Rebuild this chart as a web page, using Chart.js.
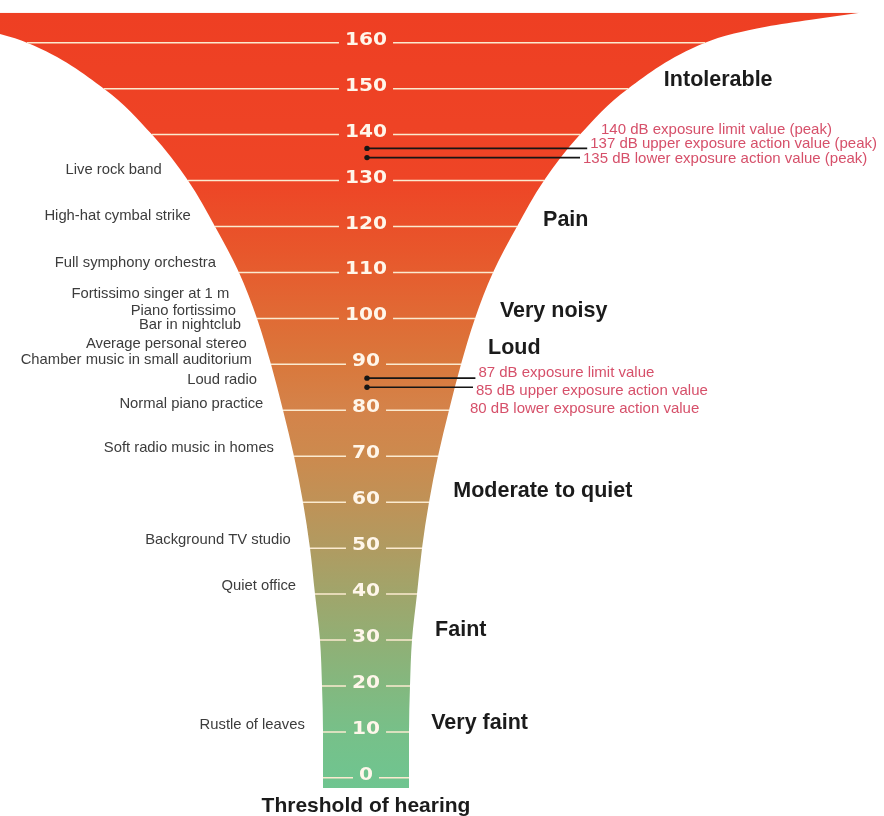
<!DOCTYPE html>
<html>
<head>
<meta charset="utf-8">
<title>Noise levels</title>
<style>
  html, body { margin: 0; padding: 0; background: #fff; }
  #wrap { width: 884px; height: 816px; position: relative; }
</style>
<script src="https://cdn.jsdelivr.net/npm/chart.js"></script>
</head>
<body>
<div id="wrap"><canvas id="noiseChart"></canvas></div>
<script>
// scale ticks (dB)
const dbTicks = [0, 10, 20, 30, 40, 50, 60, 70, 80, 90, 100, 110, 120, 130, 140, 150, 160];

// funnel outline: level (dB) and half width at that level
const funnelDb = [-2.2, 0, 10, 20, 30, 40, 50, 60, 70, 80, 90, 100, 110, 120, 130, 140, 150, 160, 162, 163.5, 165, 166.5];
const funnelHalf = [43, 43, 43, 44, 46, 51, 56, 63, 72, 83, 95, 109, 127, 151, 178, 214, 262, 339, 368, 400, 445, 494];

// everyday sources (left side)
const sources = [
  "Live rock band", "High-hat cymbal strike", "Full symphony orchestra",
  "Fortissimo singer at 1 m", "Piano fortissimo", "Bar in nightclub",
  "Average personal stereo", "Chamber music in small auditorium", "Loud radio",
  "Normal piano practice", "Soft radio music in homes", "Background TV studio",
  "Quiet office", "Rustle of leaves",
];
const sourceDb = [132.3, 122.3, 112.1, 105.4, 101.7, 98.6, 94.4, 90.9, 86.6, 81.4, 71.8, 51.8, 41.8, 11.5];

// perception zones (right side)
const zones = ["Intolerable", "Pain", "Very noisy", "Loud", "Moderate to quiet", "Faint", "Very faint"];
const zoneDb = [151.8, 121.5, 101.6, 93.6, 62.5, 32.2, 12];

// exposure values
const peakDb = [140, 137, 135];
const peakLabels = [
  "140 dB exposure limit value (peak)",
  "137 dB upper exposure action value (peak)",
  "135 dB lower exposure action value (peak)",
];
const dailyDb = [87, 85, 80];
const dailyLabels = [
  "87 dB exposure limit value",
  "85 dB upper exposure action value",
  "80 dB lower exposure action value",
];
const bottomLabel = "Threshold of hearing";

// colour ramp of the funnel (dB -> colour)
const rampDb = [166.5, 130, 115, 100, 90, 80, 70, 60, 50, 40, 30, 20, 10, 0, -2.2];
const rampColor = [
  "#EE3F23", "#EE4526", "#E8562B", "#E06B35", "#D9783C", "#D4834A", "#CC8A4E",
  "#BF9257", "#B09B61", "#A0A56B", "#91AF75", "#83B87F", "#77C089", "#70C48F", "#6FC590",
];

function halfAt(db) {
  for (let i = 0; i < funnelDb.length - 1; i++) {
    if (db >= funnelDb[i] && db <= funnelDb[i + 1]) {
      const t = (db - funnelDb[i]) / (funnelDb[i + 1] - funnelDb[i]);
      return funnelHalf[i] + t * (funnelHalf[i + 1] - funnelHalf[i]);
    }
  }
  return funnelHalf[funnelHalf.length - 1];
}

function funnelFill(context) {
  const { chart } = context;
  const { ctx, chartArea, scales } = chart;
  if (!chartArea) return rampColor[0];
  const top = scales.y.getPixelForValue(rampDb[0]);
  const bottom = scales.y.getPixelForValue(rampDb[rampDb.length - 1]);
  const g = ctx.createLinearGradient(0, top, 0, bottom);
  const span = rampDb[0] - rampDb[rampDb.length - 1];
  rampDb.forEach((d, i) => g.addColorStop((rampDb[0] - d) / span, rampColor[i]));
  return g;
}

const noiseLabels = {
  id: "noiseLabels",
  afterDatasetsDraw(chart) {
    const { ctx, scales: { x, y } } = chart;
    const cx = x.getPixelForValue(0);
    const edgeL = (db) => x.getPixelForValue(-halfAt(db));
    const edgeR = (db) => x.getPixelForValue(halfAt(db));
    ctx.save();

    // white scale lines with the numbers in the middle
    ctx.font = 'bold 18px "DejaVu Sans"';
    dbTicks.forEach((v) => {
      const py = y.getPixelForValue(v);
      const label = String(v);
      const w = ctx.measureText(label).width * 1.12;
      const gap = w / 2 + 6;
      ctx.strokeStyle = "#fbeacf";
      ctx.lineWidth = 1.5;
      ctx.beginPath();
      ctx.moveTo(edgeL(v), py);
      ctx.lineTo(cx - gap, py);
      ctx.moveTo(cx + gap, py);
      ctx.lineTo(edgeR(v), py);
      ctx.stroke();
      ctx.save();
      ctx.translate(cx, py + 2);
      ctx.scale(1.12, 1);
      ctx.fillStyle = "#fff6ea";
      ctx.textAlign = "center";
      ctx.textBaseline = "alphabetic";
      ctx.fillText(label, 0, 0);
      ctx.restore();
    });

    // exposure values: pointer lines + red text
    const drawGroup = (levels, labels, spacing) => {
      const y0 = y.getPixelForValue(levels[0]) - 5;
      ctx.font = '15px "Liberation Sans"';
      ctx.textBaseline = "middle";
      ctx.textAlign = "left";
      levels.forEach((v, i) => {
        const tx = edgeR(v) + 21;
        if (v % 10 !== 0) {
          const py = y.getPixelForValue(v);
          ctx.strokeStyle = "#151515";
          ctx.lineWidth = 1.6;
          ctx.beginPath();
          ctx.moveTo(cx + 1, py);
          ctx.lineTo(tx - 3, py);
          ctx.stroke();
          ctx.fillStyle = "#151515";
          ctx.beginPath();
          ctx.arc(cx + 1, py, 2.7, 0, Math.PI * 2);
          ctx.fill();
        }
        ctx.fillStyle = "#d6506a";
        ctx.fillText(labels[i], tx, y0 + i * spacing);
      });
    };
    drawGroup(peakDb, peakLabels, 14.5);
    drawGroup(dailyDb, dailyLabels, 18);

    // sources on the left
    ctx.font = '14.8px "Liberation Sans"';
    ctx.fillStyle = "#3c3c3c";
    ctx.textAlign = "right";
    ctx.textBaseline = "middle";
    sources.forEach((s, i) => {
      ctx.fillText(s, edgeL(sourceDb[i]) - 18, y.getPixelForValue(sourceDb[i]));
    });

    // zones on the right
    ctx.font = 'bold 21.5px "Liberation Sans"';
    ctx.fillStyle = "#1b1b1b";
    ctx.textAlign = "left";
    zones.forEach((z, i) => {
      ctx.fillText(z, edgeR(zoneDb[i]) + 22, y.getPixelForValue(zoneDb[i]));
    });

    ctx.font = 'bold 21px "Liberation Sans"';
    ctx.textAlign = "center";
    ctx.fillText(bottomLabel, cx, y.getPixelForValue(0) + 28);
    ctx.restore();
  },
};

const leftEdge = funnelDb.map((d, i) => ({ x: -funnelHalf[i], y: d }));
const rightEdge = funnelDb.map((d, i) => ({ x: funnelHalf[i], y: d }));

new Chart(document.getElementById("noiseChart"), {
  type: "line",
  data: {
    datasets: [
      {
        label: "left edge",
        data: leftEdge,
        fill: "+1",
        backgroundColor: funnelFill,
        borderWidth: 0,
        pointRadius: 0,
        cubicInterpolationMode: "monotone",
      },
      {
        label: "right edge",
        data: rightEdge,
        fill: false,
        borderWidth: 0,
        pointRadius: 0,
        cubicInterpolationMode: "monotone",
      },
    ],
  },
  options: {
    indexAxis: "y",
    responsive: true,
    maintainAspectRatio: false,
    animation: false,
    layout: { padding: 0 },
    scales: {
      x: { type: "linear", min: -366, max: 518, display: false },
      y: { type: "linear", min: -8.3, max: 169.3, display: false },
    },
    plugins: {
      legend: { display: false },
      tooltip: { enabled: false },
    },
  },
  plugins: [noiseLabels],
});
</script>
</body>
</html>
